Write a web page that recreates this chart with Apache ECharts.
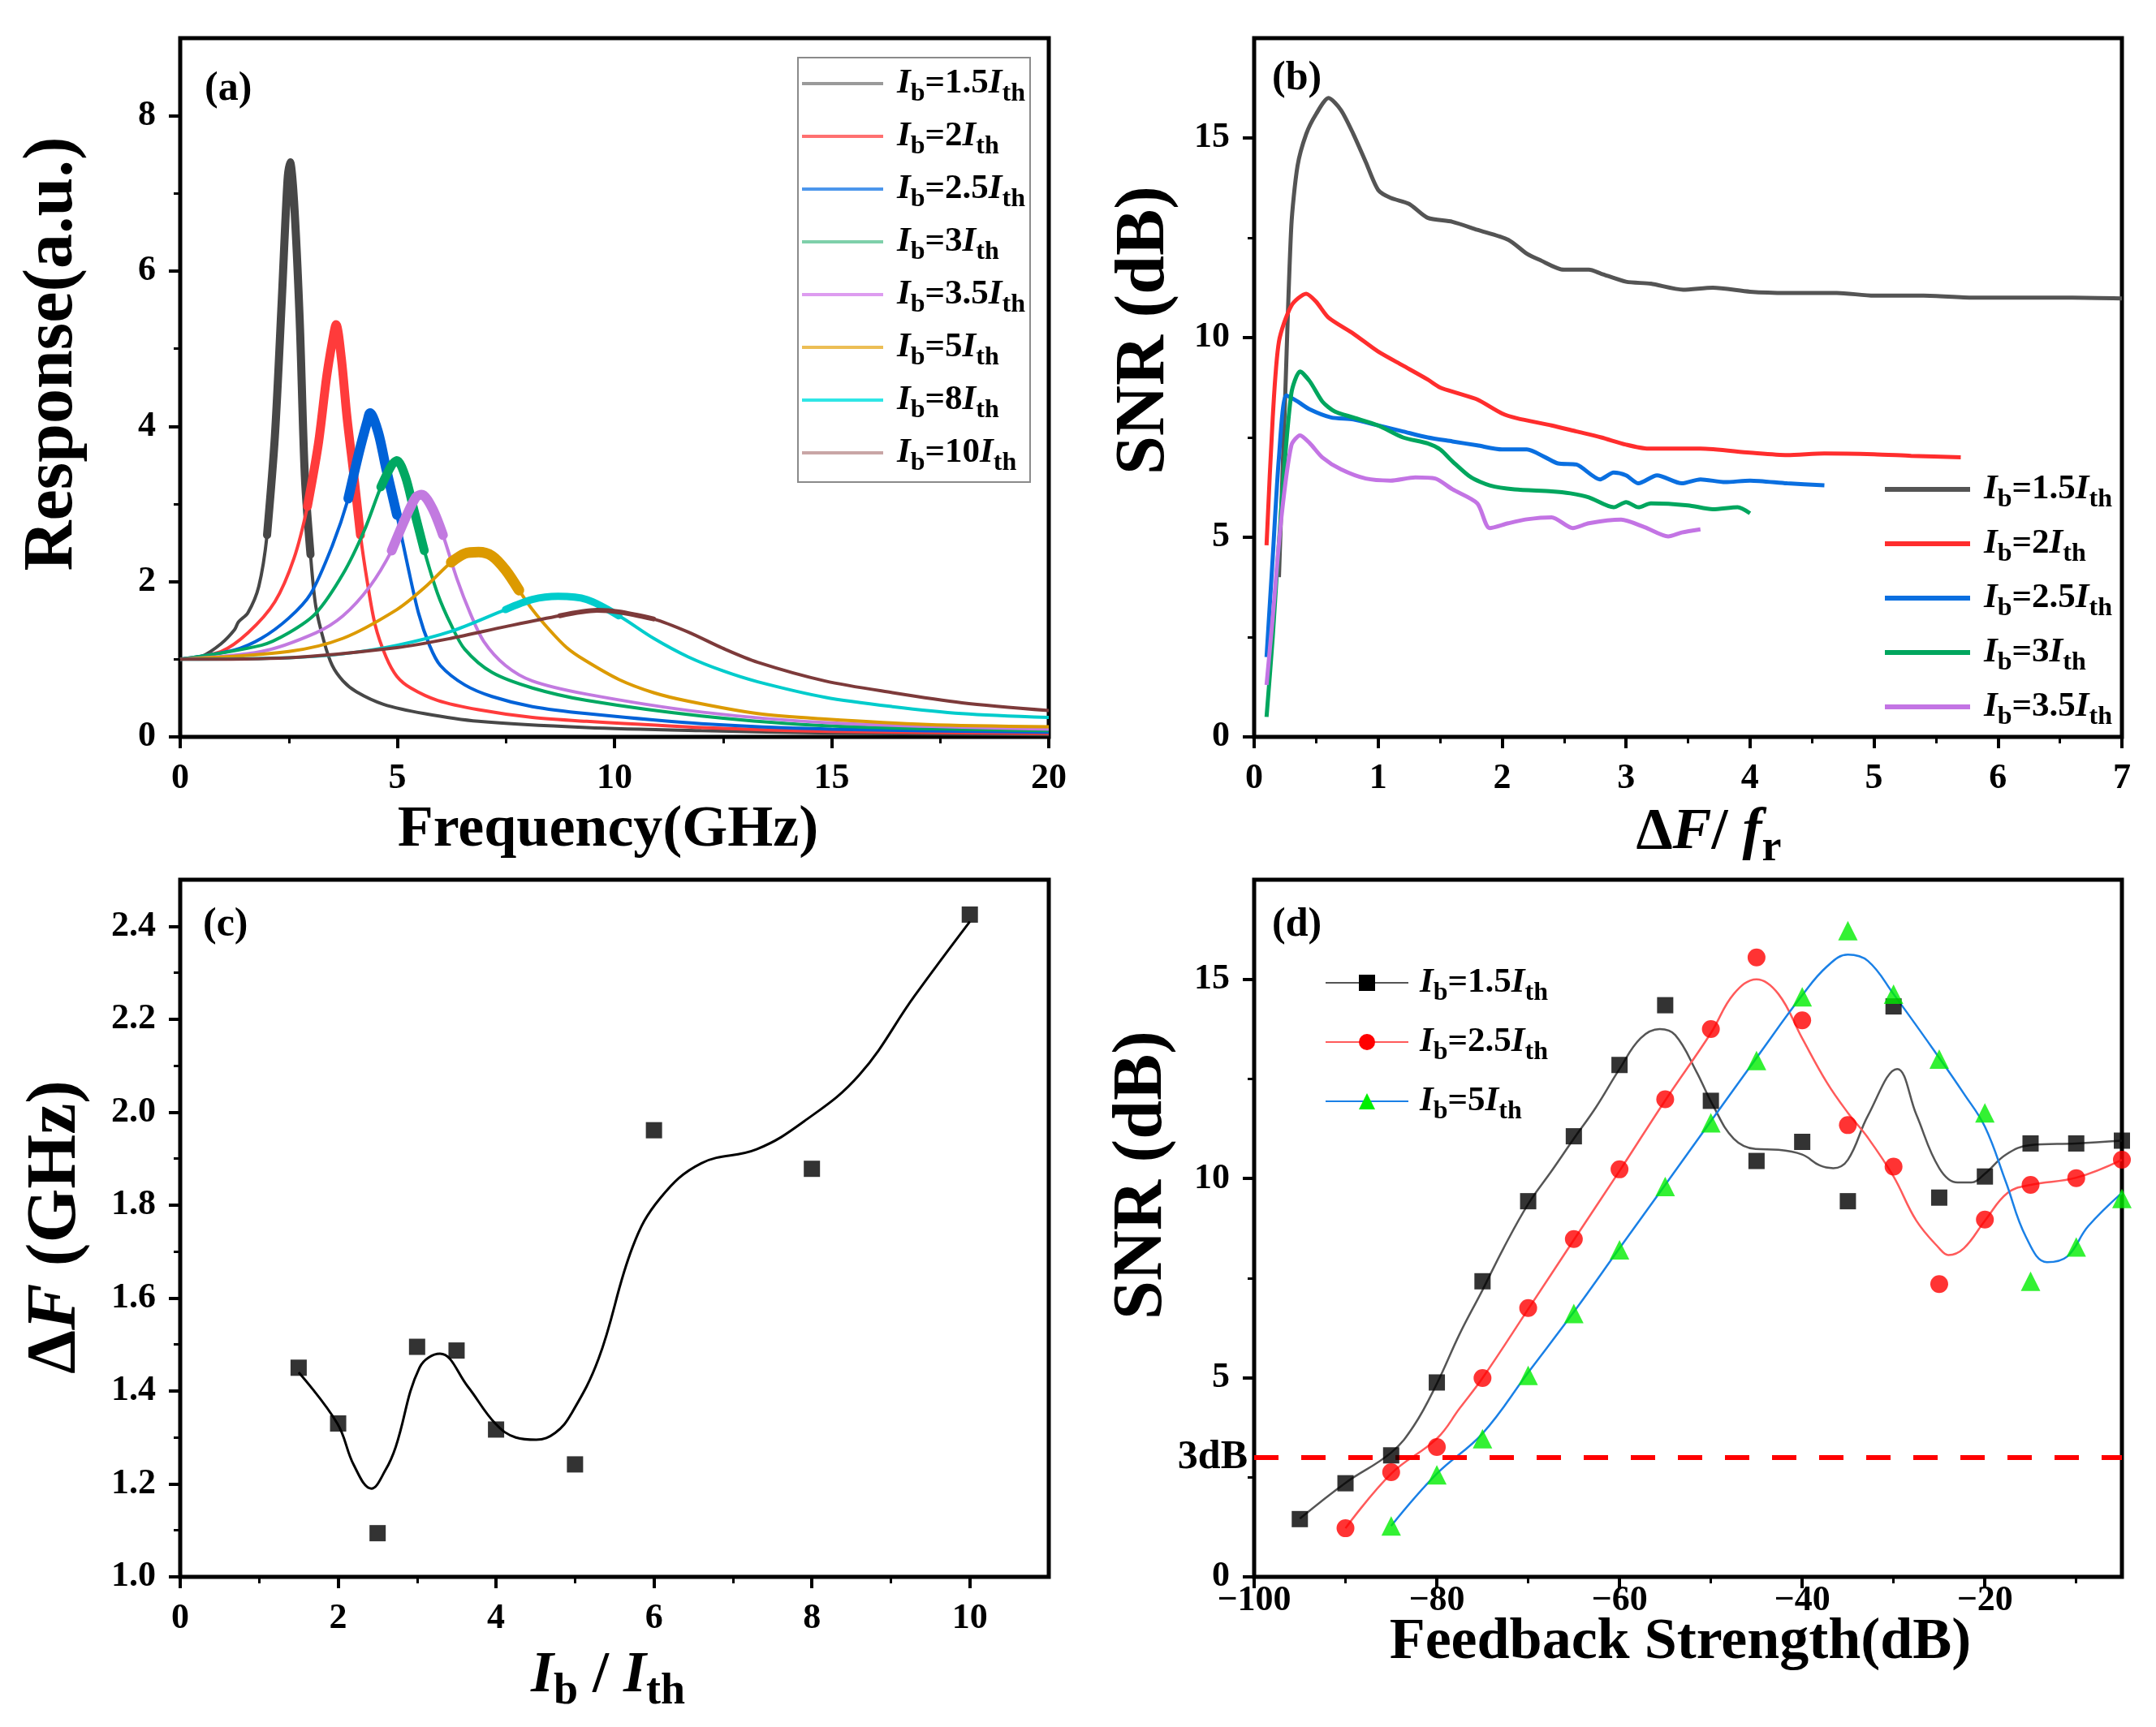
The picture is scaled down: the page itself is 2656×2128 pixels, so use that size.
<!DOCTYPE html>
<html>
<head>
<meta charset="utf-8">
<script src="https://cdn.jsdelivr.net/npm/echarts@6/dist/echarts.min.js"></script>
<style>
html, body { margin: 0; padding: 0; background: #fff; }
#chart { width: 2656px; height: 2128px; }
</style>
</head>
<body>
<div id="chart"></div>
<script>
// ---------- (a) modulation response [GHz, a.u.] ----------
const respIb15 = [[0,1],[0.5,1.04],[0.94,1.2],[1.25,1.38],[1.34,1.48],[1.56,1.6],[1.81,1.94],[2.0,2.6],[2.18,3.87],[2.34,5.64],[2.47,7.16],[2.53,7.4],[2.62,6.91],[2.75,5.39],[2.87,3.36],[3.0,2.35],[3.12,1.69],[3.31,1.23],[3.5,0.92],[3.75,0.72],[4.06,0.58],[4.68,0.42],[5.62,0.3],[6.87,0.2],[9.36,0.12],[12,0.08],[15,0.05],[20,0.03]]
const respIb2 = [[0,1],[0.94,1.1],[1.56,1.34],[2.18,1.74],[2.62,2.3],[2.93,2.97],[3.18,3.77],[3.37,4.63],[3.5,5.08],[3.59,5.31],[3.71,4.88],[3.84,4.12],[4.0,3.36],[4.15,2.6],[4.31,1.99],[4.49,1.44],[4.74,1.03],[4.99,0.78],[5.31,0.63],[5.93,0.47],[6.87,0.35],[8.11,0.25],[9.36,0.2],[12,0.12],[15,0.07],[20,0.045]]
const respIb25 = [[0,1],[1.25,1.12],[1.87,1.27],[2.5,1.53],[3.0,1.84],[3.5,2.46],[3.87,3.07],[4.12,3.67],[4.31,4.07],[4.37,4.17],[4.56,3.92],[4.74,3.46],[4.99,2.86],[5.24,2.2],[5.49,1.59],[5.74,1.18],[5.99,0.92],[6.55,0.67],[7.18,0.52],[8.11,0.39],[9.36,0.3],[12,0.17],[15,0.1],[20,0.06]]
const respIb3 = [[0,1],[1.87,1.18],[2.5,1.34],[3.12,1.59],[3.75,2.1],[4.24,2.66],[4.62,3.22],[4.87,3.5],[4.99,3.56],[5.18,3.36],[5.37,2.95],[5.62,2.4],[5.93,1.84],[6.24,1.44],[6.55,1.13],[7.18,0.83],[8.11,0.63],[9.36,0.47],[12,0.27],[15,0.14],[20,0.08]]
const respIb35 = [[0,1],[1.87,1.1],[3.12,1.34],[3.75,1.56],[4.37,1.94],[4.87,2.4],[5.18,2.81],[5.43,3.09],[5.56,3.12],[5.8,2.95],[6.05,2.6],[6.37,2.04],[6.68,1.59],[6.99,1.23],[7.49,0.92],[8.11,0.72],[9.36,0.55],[12,0.32],[15,0.18],[20,0.1]]
const respIb5 = [[0,1],[2.5,1.1],[3.75,1.27],[4.99,1.64],[5.62,1.92],[6.24,2.25],[6.55,2.36],[6.87,2.38],[7.18,2.33],[7.49,2.15],[7.8,1.89],[8.11,1.64],[8.5,1.38],[8.9,1.15],[9.31,0.99],[10.1,0.74],[10.9,0.57],[11.7,0.46],[13.3,0.3],[14.85,0.23],[17.2,0.16],[20,0.13]]
const respIb8 = [[0,1],[2.5,1.02],[3.75,1.07],[4.99,1.18],[6.24,1.36],[7.49,1.64],[8.11,1.77],[8.7,1.81],[9.36,1.77],[10.1,1.56],[10.9,1.27],[11.7,1.03],[12.5,0.85],[13.3,0.71],[14.85,0.51],[16.4,0.39],[18.0,0.3],[20,0.25]]
const respIb10 = [[0,1],[2.5,1.02],[4.99,1.15],[6.24,1.27],[7.49,1.42],[8.74,1.56],[9.6,1.63],[10.1,1.61],[10.9,1.52],[11.7,1.35],[12.5,1.14],[13.3,0.96],[14.85,0.72],[16.4,0.57],[18,0.44],[20,0.34]]
const ibA = ['1.5', '2', '2.5', '3', '3.5', '5', '8', '10']

// ---------- (b) SNR vs detuning ratio ----------
const snrIb15 = [[0.2,4.0],[0.25,8.5],[0.3,12.8],[0.35,14.3],[0.42,15.1],[0.5,15.6],[0.6,16.0],[0.7,15.7],[0.8,15.1],[0.9,14.4],[1.0,13.7],[1.1,13.5],[1.25,13.35],[1.4,13.0],[1.6,12.9],[1.8,12.7],[2.05,12.45],[2.2,12.1],[2.3,11.95],[2.5,11.7],[2.7,11.7],[2.8,11.6],[3.0,11.4],[3.2,11.35],[3.46,11.2],[3.7,11.25],[4.0,11.15],[4.3,11.12],[4.7,11.12],[5.0,11.05],[5.4,11.05],[5.8,11.0],[6.2,11.0],[6.6,11.0],[7.0,10.98]]
const snrIb2 = [[0.1,4.8],[0.15,8.0],[0.2,9.9],[0.3,10.8],[0.42,11.1],[0.5,10.9],[0.6,10.5],[0.8,10.1],[1.0,9.65],[1.2,9.3],[1.4,8.95],[1.5,8.75],[1.65,8.6],[1.8,8.45],[2.0,8.1],[2.12,7.98],[2.4,7.8],[2.6,7.65],[2.8,7.5],[3.0,7.32],[3.18,7.22],[3.6,7.22],[4.0,7.12],[4.3,7.06],[4.6,7.1],[5.0,7.08],[5.3,7.04],[5.7,7.0]]
const snrIb25 = [[0.1,2.0],[0.15,4.5],[0.2,7.0],[0.26,8.55],[0.35,8.4],[0.45,8.2],[0.62,8.0],[0.8,7.95],[1.0,7.8],[1.2,7.65],[1.4,7.5],[1.6,7.4],[1.8,7.3],[2.0,7.2],[2.2,7.2],[2.35,7.0],[2.45,6.85],[2.6,6.82],[2.79,6.45],[2.9,6.62],[3.0,6.55],[3.1,6.35],[3.25,6.55],[3.45,6.35],[3.6,6.45],[3.8,6.38],[4.0,6.42],[4.3,6.35],[4.6,6.3]]
const snrIb3 = [[0.1,0.5],[0.15,2.5],[0.22,5.8],[0.3,8.6],[0.37,9.15],[0.45,8.9],[0.55,8.4],[0.65,8.15],[0.8,8.0],[1.0,7.8],[1.2,7.5],[1.4,7.35],[1.5,7.2],[1.6,6.9],[1.75,6.5],[1.9,6.3],[2.1,6.2],[2.4,6.15],[2.55,6.1],[2.7,6.0],[2.9,5.75],[3.0,5.88],[3.1,5.75],[3.2,5.85],[3.5,5.8],[3.7,5.7],[3.9,5.75],[4.0,5.6]]
const snrIb35 = [[0.1,1.3],[0.15,3.0],[0.22,5.5],[0.3,7.3],[0.37,7.55],[0.45,7.35],[0.55,7.0],[0.7,6.7],[0.9,6.47],[1.1,6.42],[1.3,6.5],[1.46,6.47],[1.6,6.2],[1.8,5.85],[1.9,5.23],[2.05,5.35],[2.2,5.45],[2.4,5.5],[2.57,5.23],[2.7,5.35],[2.96,5.44],[3.15,5.25],[3.34,5.02],[3.45,5.12],[3.6,5.2]]
const ibB = ['1.5', '2', '2.5', '3', '3.5']

// ---------- (c) detuning range vs bias ----------
const biasRatio = [1.5, 2, 2.5, 3, 3.5, 4, 5, 6, 8, 10]
const deltaF = [1.45, 1.33, 1.094, 1.495, 1.487, 1.317, 1.242, 1.961, 1.878, 2.425]
const deltaFFit = [[1.5,1.44],[1.99,1.33],[2.2,1.24],[2.42,1.19],[2.6,1.23],[2.73,1.28],[3.03,1.45],[3.29,1.48],[3.64,1.41],[3.99,1.33],[4.25,1.3],[4.51,1.295],[4.75,1.31],[4.95,1.35],[5.3,1.47],[5.73,1.71],[6.08,1.815],[6.6,1.89],[7.3,1.92],[7.9,1.98],[8.6,2.08],[9.3,2.25],[10,2.41]]

// ---------- (d) SNR vs feedback strength ----------
const fbIb15 = [-95, -90, -85, -80, -75, -70, -65, -60, -55, -50, -45, -40, -35, -30, -25, -20, -15, -10, -5]
const snrFb15 = [1.45, 2.35, 3.05, 4.88, 7.42, 9.43, 11.06, 12.85, 14.35, 11.95, 10.44, 10.92, 9.43, 14.32, 9.52, 10.05, 10.88, 10.88, 10.95]
const fbIb25 = [-90, -85, -80, -75, -70, -65, -60, -55, -50, -45, -40, -35, -30, -25, -20, -15, -10, -5]
const snrFb25 = [1.22, 2.63, 3.26, 4.99, 6.75, 8.48, 10.23, 11.99, 13.75, 15.55, 13.97, 11.34, 10.3, 7.35, 8.97, 9.84, 10.01, 10.47]
const fbIb5 = [-85, -80, -75, -70, -65, -60, -55, -50, -45, -40, -35, -30, -25, -20, -15, -10, -5]
const snrFb5 = [1.28, 2.56, 3.47, 5.06, 6.61, 8.21, 9.8, 11.4, 12.96, 14.56, 16.22, 14.63, 13.0, 11.65, 7.42, 8.28, 9.5]
const fitFb15 = [[-95,1.46],[-90,2.36],[-85,3.12],[-82.5,3.8],[-80,4.85],[-77.5,6.1],[-75,7.2],[-72.7,8.25],[-70,9.36],[-67.4,10.2],[-65,11.0],[-62.6,11.78],[-60,12.75],[-57.7,13.52],[-55.6,13.75],[-53.9,13.6],[-51.6,12.69],[-49.8,11.85],[-47.5,11.0],[-45.1,10.74],[-42.6,10.72],[-40,10.6],[-38.1,10.33],[-36.6,10.26],[-35,10.47],[-32.8,11.58],[-29.6,12.75],[-27.5,11.6],[-25,10.26],[-23,9.9],[-21.5,9.9],[-20,10.12],[-17.7,10.6],[-15,10.84],[-10,10.88],[-5,10.95]]
const fitFb25 = [[-90,1.22],[-85,2.59],[-80,3.47],[-77.5,4.23],[-75,4.99],[-70,6.72],[-65,8.46],[-60,10.19],[-55,11.96],[-50,13.65],[-47.5,14.63],[-45,15.0],[-42.6,14.63],[-40,13.52],[-37.3,12.41],[-35,11.65],[-32.8,11.02],[-30,10.05],[-27.5,8.94],[-25,8.25],[-24,8.08],[-22.3,8.25],[-20,8.94],[-17.5,9.64],[-15,9.84],[-10,10.02],[-5,10.47]]
const fitFb5 = [[-85,1.28],[-80,2.59],[-75,3.6],[-70,5.13],[-65,6.65],[-60,8.25],[-55,9.84],[-50,11.44],[-45,13.03],[-40,14.6],[-37.3,15.32],[-35,15.62],[-32.8,15.46],[-30,14.63],[-25,13.03],[-22.3,12.13],[-20,11.3],[-17.7,9.91],[-15.5,8.53],[-13.2,7.9],[-11,8.04],[-8.7,8.8],[-5,9.64]]
const snrThreshold = 3

// ---------- tick values ----------
const ticksAX = [0, 5, 10, 15, 20], minorAX = [2.5, 7.5, 12.5, 17.5]
const ticksAY = [0, 2, 4, 6, 8], minorAY = [1, 3, 5, 7]
const ticksBX = [0, 1, 2, 3, 4, 5, 6, 7], minorBX = [0.5, 1.5, 2.5, 3.5, 4.5, 5.5, 6.5]
const ticksBY = [0, 5, 10, 15], minorBY = [2.5, 7.5, 12.5]
const ticksCX = [0, 2, 4, 6, 8, 10], minorCX = [1, 3, 5, 7, 9]
const ticksCY = [1.0, 1.2, 1.4, 1.6, 1.8, 2.0, 2.2, 2.4], minorCY = [1.1, 1.3, 1.5, 1.7, 1.9, 2.1, 2.3]
const ticksDX = [-100, -80, -60, -40, -20], minorDX = [-90, -70, -50, -30, -10]
const ticksDY = [0, 5, 10, 15], minorDY = [2.5, 7.5, 12.5]

const FONT = '"Times New Roman", "Liberation Serif", serif'
const colorsA = ['#474747', '#ff3b3b', '#0062d8', '#00a862', '#c27ae0', '#dc9a00', '#00cccc', '#7d3a3a']
const legendColorsA = ['#9a9a9a', '#ff7070', '#4c96ec', '#7fd0aa', '#dd9cf0', '#ecbe55', '#2fe6e6', '#c9a6a6']
const bandA = [[1.95, 3.0], [2.85, 4.2], [3.7, 5.1], [4.3, 5.65], [4.8, 6.25], [5.8, 7.95], [7.4, 10.1], [8.6, 11.0]]
const bandWidthA = [10, 11, 12, 11, 12, 13, 9, 6]
const colorsB = ['#545454', '#ff2d2d', '#0a6fe0', '#00a65e', '#c374e4']

const ibLabel = (v) => `{i0|I}{s|b}{n|=${v}}{i|I}{s|th}`

const makeRich = (size, sub, pad, lead) => ({
  n: { fontSize: size, fontWeight: 'bold', fontFamily: FONT, color: '#000', lineHeight: size + 6 },
  i: { fontSize: size, fontWeight: 'bold', fontStyle: 'italic', fontFamily: FONT, color: '#000', lineHeight: size + 6 },
  i0: { fontSize: size, fontWeight: 'bold', fontStyle: 'italic', fontFamily: FONT, color: '#000', lineHeight: size + 6, padding: [0, 0, 0, lead || 0] },
  s: { fontSize: sub, fontWeight: 'bold', fontFamily: FONT, color: '#000', lineHeight: sub + 4, padding: [pad, 0, 0, 0] },
})
const titleRich = makeRich(72, 54, 40)
const yTitleRich = makeRich(86, 64, 46)

const labelStyle = { fontSize: 44, fontWeight: 'bold', fontFamily: FONT, color: '#000', margin: 30 }

const mainAxis = (gridIndex, pos, min, max, ticks, fmt, margin) => ({
  type: 'value', gridIndex, position: pos, min, max,
  axisLine: { show: false },
  axisTick: { show: true, customValues: ticks, length: 14, lineStyle: { color: '#000', width: 4 } },
  axisLabel: Object.assign({}, labelStyle, { customValues: ticks, formatter: fmt || ((v) => String(v)), margin: margin || 30 }),
  splitLine: { show: false },
})
const minorAxis = (gridIndex, pos, min, max, ticks) => ({
  type: 'value', gridIndex, position: pos, min, max,
  axisLine: { show: false },
  axisTick: { show: true, customValues: ticks, length: 8, lineStyle: { color: '#000', width: 3 } },
  axisLabel: { show: false },
  splitLine: { show: false },
})
const minus = (v) => (v < 0 ? '\u2212' + Math.abs(v) : String(v))

const grids = [
  { left: 222, top: 47, width: 1070, height: 861 },
  { left: 1545, top: 47, width: 1069, height: 861 },
  { left: 222, top: 1084, width: 1070, height: 859 },
  { left: 1545, top: 1084, width: 1069, height: 859 },
].map((g) => Object.assign({ show: true, borderColor: '#000', borderWidth: 5, backgroundColor: 'transparent', containLabel: false, outerBoundsMode: 'none' }, g))

const xAxes = [
  mainAxis(0, 'bottom', 0, 20, ticksAX), minorAxis(0, 'bottom', 0, 20, minorAX),
  mainAxis(1, 'bottom', 0, 7, ticksBX), minorAxis(1, 'bottom', 0, 7, minorBX),
  mainAxis(2, 'bottom', 0, 11, ticksCX), minorAxis(2, 'bottom', 0, 11, minorCX),
  mainAxis(3, 'bottom', -100, -5, ticksDX, minus, 8), minorAxis(3, 'bottom', -100, -5, minorDX),
]
const yAxes = [
  mainAxis(0, 'left', 0, 9, ticksAY), minorAxis(0, 'left', 0, 9, minorAY),
  mainAxis(1, 'left', 0, 17.5, ticksBY), minorAxis(1, 'left', 0, 17.5, minorBY),
  mainAxis(2, 'left', 1.0, 2.5, ticksCY, (v) => v.toFixed(1)), minorAxis(2, 'left', 1.0, 2.5, minorCY),
  mainAxis(3, 'left', 0, 17.5, ticksDY), minorAxis(3, 'left', 0, 17.5, minorDY),
]

const series = []

// (a)
const curvesA = [respIb15, respIb2, respIb25, respIb3, respIb35, respIb5, respIb8, respIb10]
curvesA.forEach((d, k) => {
  series.push({
    type: 'line', name: 'a' + ibA[k], xAxisIndex: 0, yAxisIndex: 0, data: d,
    symbol: 'none', smooth: 0.3, z: 2 + k,
    lineStyle: { color: colorsA[k], width: 4 }, itemStyle: { color: colorsA[k] },
  })
  const lo = bandA[k][0], hi = bandA[k][1]
  series.push({
    type: 'line', xAxisIndex: 0, yAxisIndex: 0, data: d.filter((p) => p[0] >= lo && p[0] <= hi),
    symbol: 'none', smooth: 0.3, z: 2 + k,
    lineStyle: { color: colorsA[k], width: bandWidthA[k], cap: 'round', join: 'round' },
  })
})

// (b)
const curvesB = [snrIb15, snrIb2, snrIb25, snrIb3, snrIb35]
curvesB.forEach((d, k) => {
  series.push({
    type: 'line', name: 'b' + ibB[k], xAxisIndex: 2, yAxisIndex: 2, data: d,
    symbol: 'none', smooth: 0.25,
    lineStyle: { color: colorsB[k], width: 5 }, itemStyle: { color: colorsB[k] },
  })
})

// (c)
series.push({
  type: 'line', xAxisIndex: 4, yAxisIndex: 4, data: deltaFFit, symbol: 'none', smooth: 0.4,
  lineStyle: { color: '#000', width: 3 },
})
series.push({
  type: 'scatter', xAxisIndex: 4, yAxisIndex: 4, data: biasRatio.map((x, i) => [x, deltaF[i]]),
  symbol: 'rect', symbolSize: 20, itemStyle: { color: '#000' }, z: 5,
})

// (d)
const dSets = [
  { key: 'd1.5', x: fbIb15, y: snrFb15, fit: fitFb15, sym: 'rect', size: 20, mk: '#000', ln: '#555' },
  { key: 'd2.5', x: fbIb25, y: snrFb25, fit: fitFb25, sym: 'circle', size: 22, mk: '#ff0000', ln: '#ff5a5a' },
  { key: 'd5', x: fbIb5, y: snrFb5, fit: fitFb5, sym: 'triangle', size: 24, mk: '#00ee00', ln: '#1a80e6' },
]
dSets.forEach((s, k) => {
  const fitSeries = {
    type: 'line', name: s.key, xAxisIndex: 6, yAxisIndex: 6, data: s.fit,
    symbol: s.sym, symbolSize: s.size, showSymbol: false, smooth: 0.4,
    lineStyle: { color: s.ln, width: 2.5 }, itemStyle: { color: s.mk },
  }
  if (k === 0) {
    fitSeries.markLine = {
      silent: true, symbol: 'none', data: [{ yAxis: snrThreshold }],
      lineStyle: { color: '#ff0000', width: 6, type: [30, 28] },
      label: { show: true, position: 'start', formatter: '3dB', distance: 8, fontSize: 50, fontWeight: 'bold', fontFamily: FONT, color: '#000' },
    }
  }
  series.push(fitSeries)
  series.push({
    type: 'scatter', xAxisIndex: 6, yAxisIndex: 6, data: s.x.map((x, i) => [x, s.y[i]]),
    symbol: s.sym, symbolSize: s.size, itemStyle: { color: s.mk }, z: 5,
  })
})

const legendBase = {
  orient: 'vertical', selectedMode: false,
  formatter: (name) => ibLabel(name.slice(1)),
}
const legends = [
  Object.assign({}, legendBase, {
    data: ibA.map((v, k) => ({ name: 'a' + v, itemStyle: { color: legendColorsA[k] } })),
    icon: 'rect', left: 983, top: 71, itemWidth: 100, itemHeight: 4, itemGap: 7,
    padding: [3, 6, 7, 5], borderColor: '#8a8a8a', borderWidth: 2,
    textStyle: { rich: makeRich(43, 32, 26, 12) },
  }),
  Object.assign({}, legendBase, {
    data: ibB.map((v) => 'b' + v), icon: 'rect', left: 2322, top: 574,
    itemWidth: 105, itemHeight: 6, itemGap: 9, padding: 0,
    textStyle: { rich: makeRich(43, 32, 26, 12) },
  }),
  Object.assign({}, legendBase, {
    data: dSets.map((s) => s.key), left: 1632, top: 1182, itemWidth: 102, itemHeight: 25, itemGap: 15, padding: 0,
    textStyle: { rich: makeRich(43, 32, 26, 9) },
  }),
]

const txt = (x, y, text, opts) => ({
  type: 'text', x, y, rotation: (opts && opts.rot) || 0, z: 100,
  style: {
    text, rich: (opts && opts.rich) || titleRich, fill: '#000',
    fontSize: (opts && opts.size) || 72, fontWeight: 'bold', fontFamily: FONT,
    align: (opts && opts.align) || 'center', verticalAlign: 'middle',
    textAlign: (opts && opts.align) || 'center', textVerticalAlign: 'middle',
  },
})
const yt = { rot: Math.PI / 2, size: 86, rich: yTitleRich }
const graphic = [
  txt(66, 436, 'Response(a.u.)', yt),
  txt(749, 1023, 'Frequency(GHz)'),
  txt(1411, 407, 'SNR (dB)', yt),
  txt(2105, 1026, '{n|\u0394}{i|F}{n|/ }{i|f}{s|r}'),
  txt(70, 1512, '{n|\u0394}{i|F}{n| (GHz)}', yt),
  txt(749, 2065, '{i|I}{s|b}{n| / }{i|I}{s|th}'),
  txt(1408, 1448, 'SNR (dB)', yt),
  txt(2070, 2024, 'Feedback Strength(dB)'),
  txt(252, 110, '(a)', { size: 50, align: 'left' }),
  txt(1567, 97, '(b)', { size: 50, align: 'left' }),
  txt(250, 1140, '(c)', { size: 50, align: 'left' }),
  txt(1567, 1140, '(d)', { size: 50, align: 'left' }),
]

const chart = echarts.init(document.getElementById('chart'))
chart.setOption({
  animation: false,
  backgroundColor: '#fff',
  grid: grids,
  xAxis: xAxes,
  yAxis: yAxes,
  legend: legends,
  series,
  graphic,
})
</script>
</body>
</html>
